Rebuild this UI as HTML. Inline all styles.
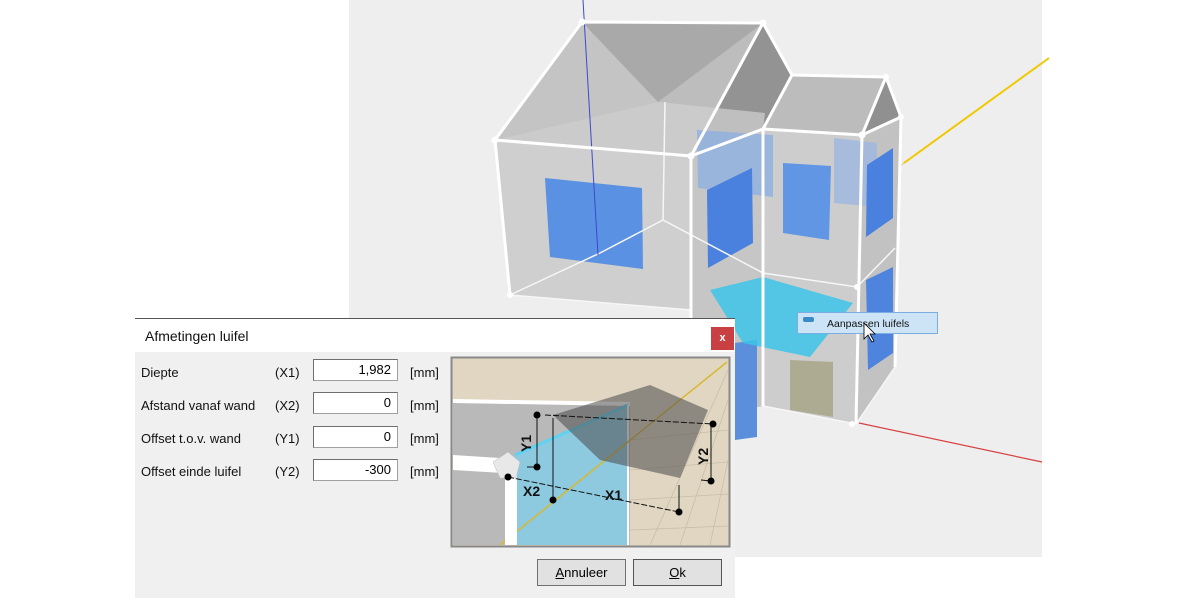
<!DOCTYPE html>
<html><head><meta charset="utf-8"><style>
html,body{margin:0;padding:0;background:#fff;width:1200px;height:600px;overflow:hidden;font-family:"Liberation Sans",sans-serif}
.abs{position:absolute}
.lbl{position:absolute;font-size:13px;color:#111;line-height:16px}
.inp{position:absolute;left:313px;width:85px;height:22px;background:#fff;border:1px solid #a0a0a0;border-top-color:#6e6e6e;border-left-color:#6e6e6e;box-sizing:border-box;font-size:13px;text-align:right;padding-right:6px;line-height:20px}
.btn{position:absolute;top:559px;width:89px;height:27px;box-sizing:border-box;border:1px solid #707070;background:#e1e1e1;font-size:13px;text-align:center;line-height:25px}
</style></head><body>
<svg class="abs" style="left:0;top:0" width="1200" height="600">
<rect x="349" y="0" width="693" height="557" fill="#eeeeee"/>
<!-- axes -->
<line x1="1049" y1="58" x2="904" y2="163" stroke="#f0c800" stroke-width="2"/>
<line x1="904" y1="163" x2="700" y2="320" stroke="#c8b040" stroke-width="1" opacity="0.6"/>
<line x1="859" y1="423" x2="1042" y2="462" stroke="#d84040" stroke-width="1.2"/>
<!-- roof -->
<polygon points="582,22 763,23 691,156 495,140" fill="#bdbdbd"/>
<polygon points="582,22 658,102 495,140" fill="#c4c4c4"/>
<polygon points="582,22 763,23 658,102" fill="#a9a9a9"/>
<polygon points="763,23 792,73 763,129 691,156" fill="#939393"/>
<polygon points="792,75 886,77 862,135 763,129" fill="#bcbcbc"/>
<polygon points="886,77 901,117 862,135" fill="#909090"/>
<!-- walls -->
<polygon points="495,140 691,156 691,310 510,295" fill="#cbcbcb" opacity="0.9"/>
<polygon points="691,156 763,129 763,406 691,420" fill="#c6c6c6"/>
<polygon points="763,129 862,135 856,424 763,406" fill="#cdcdcd"/>
<polygon points="862,135 901,117 895,367 856,424" fill="#c2c2c2"/>
<polygon points="658,102 765,113 763,129 691,156 495,140" fill="#d2d2d2" opacity="0.7"/>
<!-- windows -->
<polygon points="545,178 642,188 643,269 550,257" fill="#5b91e2"/>
<polygon points="697,130 773,135 773,197 698,188" fill="#8fb0e0" opacity="0.8"/>
<polygon points="707,190 752,168 753,243 708,268" fill="#4a80de"/>
<polygon points="783,163 831,166 829,240 783,233" fill="#6096e4"/>
<polygon points="834,138 877,143 877,207 834,203" fill="#9db8e0" opacity="0.8"/>
<polygon points="867,165 893,148 893,218 866,237" fill="#4a80de"/>
<polygon points="866,280 893,267 893,353 868,370" fill="#4f84de"/>
<polygon points="735,343 757,340 757,437 735,440" fill="#5b8fdc"/>
<polygon points="790,360 833,362 833,417 790,410" fill="#aaa98c" opacity="0.9"/>
<polygon points="710,290 763,277 853,303 810,357 743,343" fill="#3cc4e8" opacity="0.85"/>
<!-- floor lines -->
<g stroke="#f6f6f6" stroke-width="1.5" fill="none">
<polyline points="510,295 600,253 663,220 763,273"/>
<polyline points="510,295 691,310"/>
<polyline points="663,220 665,102"/>
<polyline points="763,273 857,287 895,248"/>
<polyline points="763,406 856,424 895,367"/>
</g>
<line x1="583" y1="0" x2="598" y2="255" stroke="#3a4ad0" stroke-width="1"/>
<!-- frame -->
<g stroke="#ffffff" stroke-width="3" fill="none" stroke-linejoin="round">
<polygon points="582,22 763,23 691,156 495,140"/>
<polyline points="763,23 792,75 886,77 901,117 862,135 763,129 691,156"/>
<polyline points="792,75 763,129"/>
<polyline points="886,77 862,135"/>
<polyline points="495,140 510,295"/>
<polyline points="691,156 691,420"/>
<polyline points="763,129 763,406"/>
<polyline points="862,135 856,424"/>
<polyline points="901,117 895,367"/>
</g>
<g fill="#fff"><circle cx="582" cy="22" r="3.5"/><circle cx="763" cy="23" r="3.5"/><circle cx="495" cy="140" r="3.5"/><circle cx="691" cy="156" r="3.5"/><circle cx="886" cy="77" r="3"/><circle cx="862" cy="135" r="3.5"/><circle cx="901" cy="117" r="3"/><circle cx="857" cy="287" r="3"/><circle cx="510" cy="295" r="3"/><circle cx="852" cy="424" r="3"/></g>
<!-- context menu -->
<rect x="797.5" y="312.5" width="140" height="21" fill="#cde4f7" stroke="#7aaee2"/>
<rect x="803" y="317" width="11" height="5" fill="#3a8ac8" rx="2"/>
<text x="827" y="327" font-size="10.5" font-family="Liberation Sans" fill="#111">Aanpassen luifels</text>
<polygon points="864,323 864,339 868,335 872,342 874,341 870,334 875,334" fill="#fff" stroke="#000" stroke-width="0.8"/>
</svg>

<!-- dialog -->
<div class="abs" style="left:135px;top:318px;width:600px;height:279px;background:#f0f0f0;border-top:1px solid #555"></div>
<div class="abs" style="left:135px;top:319px;width:600px;height:33px;background:#fff"></div>
<div class="lbl" style="left:145px;top:328px;font-size:14px">Afmetingen luifel</div>
<div class="abs" style="left:711px;top:327px;width:23px;height:23px;background:#c94042;color:#fff;font-size:11px;font-weight:bold;text-align:center;line-height:22px">x</div>

<div class="lbl" style="left:141px;top:365px">Diepte</div>
<div class="lbl" style="left:141px;top:398px">Afstand vanaf wand</div>
<div class="lbl" style="left:141px;top:431px">Offset t.o.v. wand</div>
<div class="lbl" style="left:141px;top:464px">Offset einde luifel</div>
<div class="lbl" style="left:275px;top:365px">(X1)</div>
<div class="lbl" style="left:275px;top:398px">(X2)</div>
<div class="lbl" style="left:275px;top:431px">(Y1)</div>
<div class="lbl" style="left:275px;top:464px">(Y2)</div>
<div class="inp" style="top:359px">1,982</div>
<div class="inp" style="top:392px">0</div>
<div class="inp" style="top:426px">0</div>
<div class="inp" style="top:459px">-300</div>
<div class="lbl" style="left:410px;top:365px">[mm]</div>
<div class="lbl" style="left:410px;top:398px">[mm]</div>
<div class="lbl" style="left:410px;top:431px">[mm]</div>
<div class="lbl" style="left:410px;top:464px">[mm]</div>

<svg class="abs" style="left:0;top:0" width="1200" height="600">
<defs><clipPath id="pc"><rect x="453" y="359" width="275" height="186"/></clipPath></defs>
<rect x="451.5" y="357.5" width="278" height="189" fill="#e0d6c2" stroke="#888" stroke-width="2"/>
<g clip-path="url(#pc)">
<g stroke="#c9bea8" stroke-width="0.8">
<line x1="630" y1="440" x2="728" y2="430"/><line x1="630" y1="470" x2="728" y2="462"/><line x1="630" y1="500" x2="728" y2="494"/><line x1="630" y1="530" x2="728" y2="526"/>
<line x1="650" y1="545" x2="728" y2="370"/><line x1="680" y1="545" x2="728" y2="400"/><line x1="710" y1="545" x2="728" y2="460"/>
</g>
<polygon points="453,402 630,405 630,545 453,545" fill="#b9b9b9"/>
<line x1="453" y1="401" x2="630" y2="404" stroke="#fff" stroke-width="4"/>
<polygon points="515,455 628,405 628,545 517,545" fill="#8ecadf"/>
<line x1="515" y1="455" x2="628" y2="405" stroke="#5fd2f2" stroke-width="3"/>
<line x1="628" y1="405" x2="628" y2="545" stroke="#fff" stroke-width="2"/>
<line x1="727" y1="362" x2="500" y2="545" stroke="#d8b830" stroke-width="1.5"/>
<polygon points="553,415 650,385 708,410 680,478 600,460" fill="#4a4a4a" opacity="0.55"/>
<polygon points="453,455 500,458 503,473 453,470" fill="#fff"/>
<rect x="505" y="475" width="12" height="70" fill="#fff"/>
<polygon points="493,462 508,452 520,462 516,478 500,478" fill="#e8e8e8" stroke="#bbb" stroke-width="0.5"/>
<g stroke="#111" stroke-width="1" fill="none">
<line x1="537" y1="415" x2="537" y2="467"/><line x1="537" y1="467" x2="527" y2="467"/>
<line x1="553" y1="418" x2="553" y2="500"/>
<line x1="545" y1="415" x2="713" y2="424" stroke-dasharray="6,2"/>
<line x1="508" y1="477" x2="679" y2="512" stroke-dasharray="6,2"/>
<line x1="711" y1="424" x2="711" y2="481"/><line x1="701" y1="480" x2="711" y2="481"/>
<line x1="679" y1="485" x2="679" y2="512"/>
</g>
<g fill="#000"><circle cx="537" cy="415" r="3.5"/><circle cx="537" cy="467" r="3.5"/><circle cx="508" cy="477" r="3.5"/><circle cx="553" cy="500" r="3.5"/><circle cx="713" cy="424" r="3.5"/><circle cx="711" cy="481" r="3.5"/><circle cx="679" cy="512" r="3.5"/></g>
<g font-family="Liberation Sans" font-weight="bold" font-size="14" fill="#111">
<text x="523" y="496">X2</text><text x="605" y="500">X1</text>
<text transform="translate(531,452) rotate(-90)">Y1</text>
<text transform="translate(708,465) rotate(-90)">Y2</text>
</g>
</g>
</svg>
<div class="btn" style="left:537px"><u>A</u>nnuleer</div>
<div class="btn" style="left:633px;border-color:#555"><u>O</u>k</div>
</body></html>
